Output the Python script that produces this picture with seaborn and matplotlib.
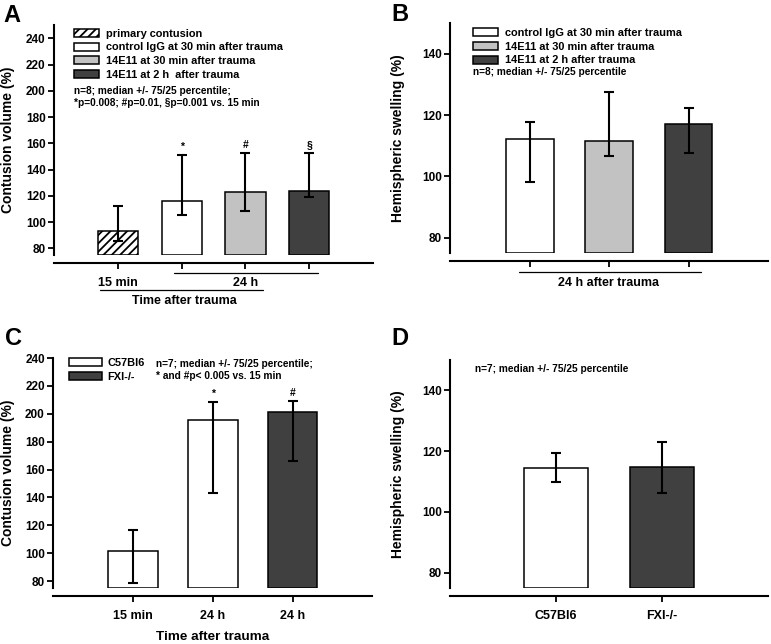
"""
plot.py

four panel bar chart: contusion volume and hemispheric swelling
"""

import matplotlib
matplotlib.use("Agg")
import matplotlib.pyplot as plt
import matplotlib.transforms as mtransforms
import seaborn as sns

# panel A: contusion volume, 14E11 treatment
A_labels = ["primary contusion", "control IgG at 30 min after trauma",
            "14E11 at 30 min after trauma", "14E11 at 2 h  after trauma"]
A_median = [93.0, 116.5, 122.7, 123.5]
A_p75 = [112.0, 151.5, 153.0, 153.0]
A_p25 = [86.0, 105.6, 108.6, 119.0]
A_marks = ["", "*", "#", "§"]

# panel B: hemispheric swelling, 14E11 treatment
B_labels = ["control IgG at 30 min after trauma", "14E11 at 30 min after trauma",
            "14E11 at 2 h after trauma"]
B_median = [112.3, 111.7, 117.0]
B_p75 = [117.9, 127.4, 122.3]
B_p25 = [98.1, 106.8, 107.7]

# panel C: contusion volume, FXI knockout
C_keys = ["C57Bl6 15 min", "C57Bl6 24 h", "FXI-/- 24 h"]
C_ticks = ["15 min", "24 h", "24 h"]
C_legend = ["C57Bl6", "FXI-/-"]
C_median = [101.8, 195.7, 201.6]
C_p75 = [116.4, 208.8, 209.1]
C_p25 = [78.3, 143.4, 166.2]
C_marks = ["", "*", "#"]

# panel D: hemispheric swelling, FXI knockout
D_groups = ["C57Bl6", "FXI-/-"]
D_median = [114.5, 114.8]
D_p75 = [119.5, 123.1]
D_p25 = [110.0, 106.2]

WHITE, LIGHT, DARK = "#ffffff", "#c2c2c2", "#404040"
BASE = 75

sns.set_theme(style="ticks")
plt.rcParams["font.family"] = ["Liberation Sans", "DejaVu Sans"]
plt.rcParams["hatch.linewidth"] = 1.3
plt.rcParams["axes.linewidth"] = 1.5
plt.rcParams["xtick.major.width"] = 1.3
plt.rcParams["ytick.major.width"] = 1.3
plt.rcParams["xtick.major.size"] = 4
plt.rcParams["ytick.major.size"] = 4
plt.rcParams["xtick.color"] = "black"
plt.rcParams["ytick.color"] = "black"
plt.rcParams["axes.edgecolor"] = "black"
plt.rcParams["text.color"] = "black"
plt.rcParams["axes.labelcolor"] = "black"

fig = plt.figure(figsize=(7.71, 6.44), dpi=100)
axA = fig.add_axes([0.070, 0.604, 0.414, 0.357])
axB = fig.add_axes([0.584, 0.607, 0.412, 0.357])
axC = fig.add_axes([0.069, 0.087, 0.414, 0.357])
axD = fig.add_axes([0.584, 0.087, 0.412, 0.354])

leg_font = {"weight": "bold", "size": 7.9}
note_font = {"fontweight": "bold", "fontsize": 7.3}


def bars(ax, keys, median, p25, p75, colors, width, ylim, yticks, xlim):
    sns.barplot(x=keys, y=median, hue=keys, palette=colors, width=width,
                edgecolor="black", linewidth=1.1, legend=False, ax=ax,
                saturation=1)
    # bars start at the bottom of the axis, not at zero
    for p in ax.patches:
        h = p.get_height()
        p.set_y(BASE)
        p.set_height(h - BASE)
    lo = [m - q for m, q in zip(median, p25)]
    hi = [q - m for m, q in zip(median, p75)]
    ax.errorbar(range(len(keys)), median, yerr=[lo, hi], fmt="none",
                ecolor="black", elinewidth=1.5, capsize=3.6, capthick=1.5)
    ax.set_ylim(*ylim)
    ax.set_xlim(*xlim)
    ax.set_yticks(yticks)
    ax.tick_params(axis="y", labelsize=8.5, pad=2)
    for t in ax.get_yticklabels():
        t.set_fontweight("bold")
    ax.spines["top"].set_visible(False)
    ax.spines["right"].set_visible(False)
    ax.spines["bottom"].set_position(("outward", 6))
    ax.set_xlabel("")
    ax.set_ylabel("")


def marks(ax, p75, symbols):
    for i, (top, s) in enumerate(zip(p75, symbols)):
        if s:
            ax.annotate(s, (i, top), xytext=(0, 2), textcoords="offset points",
                        ha="center", va="bottom", fontsize=7.5, fontweight="bold")


def underline(ax, x0, x1, y):
    tr = mtransforms.blended_transform_factory(ax.transData, ax.transAxes)
    ax.plot([x0, x1], [y, y], color="black", lw=0.9, transform=tr, clip_on=False)


def xtext(ax, x, y, s, **kw):
    tr = mtransforms.blended_transform_factory(ax.transData, ax.transAxes)
    ax.text(x, y, s, transform=tr, ha="center", va="center", **kw)


def ylabel(ax, x, s):
    ax.text(x, 0.5, s, transform=ax.transAxes, rotation=90, ha="center",
            va="center", fontsize=10, fontweight="bold")


# ---- A
bars(axA, A_labels, A_median, A_p25, A_p75, [WHITE, WHITE, LIGHT, DARK], 0.63,
     (75, 250), range(80, 241, 20), (-1, 4))
axA.patches[0].set_hatch("////")
axA.set_xticks(range(4))
axA.set_xticklabels([])
marks(axA, A_p75, A_marks)
axA.legend(handles=axA.patches[:4], labels=A_labels, loc="upper left",
           bbox_to_anchor=(0.063, 0.985), frameon=False, prop=leg_font,
           handlelength=2.3, handleheight=0.75, labelspacing=0.35,
           handletextpad=0.6, borderpad=0, borderaxespad=0)
axA.text(0.063, 0.735, "n=8; median +/- 75/25 percentile;\n"
         "*p=0.008; #p=0.01, §p=0.001 vs. 15 min", transform=axA.transAxes,
         ha="left", va="top", linespacing=1.25, **note_font)
underline(axA, 0.88, 3.14, -0.077)
underline(axA, -0.28, 2.28, -0.152)
xtext(axA, 0, -0.122, "15 min", fontsize=9, fontweight="bold")
xtext(axA, 2, -0.122, "24 h", fontsize=9, fontweight="bold")
xtext(axA, 1.04, -0.199, "Time after trauma", fontsize=9, fontweight="bold")
ylabel(axA, -0.144, "Contusion volume (%)")

# ---- B
bars(axB, B_labels, B_median, B_p25, B_p75, [WHITE, LIGHT, DARK], 0.6,
     (75, 150), [80, 100, 120, 140], (-1, 3))
axB.set_xticks(range(3))
axB.set_xticklabels([])
axB.legend(handles=axB.patches[:3], labels=B_labels, loc="upper left",
           bbox_to_anchor=(0.072, 0.98), frameon=False, prop=leg_font,
           handlelength=2.3, handleheight=0.75, labelspacing=0.35,
           handletextpad=0.6, borderpad=0, borderaxespad=0)
axB.text(0.072, 0.787, "n=8; median +/- 75/25 percentile", transform=axB.transAxes,
         ha="left", va="center", **note_font)
underline(axB, -0.13, 2.16, -0.083)
xtext(axB, 0.99, -0.13, "24 h after trauma", fontsize=9, fontweight="bold")
ylabel(axB, -0.163, "Hemispheric swelling (%)")

# ---- C
bars(axC, C_keys, C_median, C_p25, C_p75, [WHITE, WHITE, DARK], 0.62,
     (75, 240), range(80, 241, 20), (-1, 3))
axC.set_xticks(range(3))
axC.set_xticklabels(C_ticks, fontsize=9, fontweight="bold")
axC.tick_params(axis="x", pad=6)
marks(axC, C_p75, C_marks)
axC.legend(handles=[axC.patches[0], axC.patches[2]], labels=C_legend,
           loc="upper left", bbox_to_anchor=(0.05, 1.0), frameon=False,
           prop=leg_font, handlelength=3.0, handleheight=0.75, labelspacing=0.38,
           handletextpad=0.5, borderpad=0, borderaxespad=0)
axC.text(0.323, 0.995, "n=7; median +/- 75/25 percentile;\n"
         "* and #p< 0.005 vs. 15 min", transform=axC.transAxes,
         ha="left", va="top", linespacing=1.25, **note_font)
xtext(axC, 1.0, -0.212, "Time after trauma", fontsize=9.7, fontweight="bold")
ylabel(axC, -0.141, "Contusion volume (%)")

# ---- D
bars(axD, D_groups, D_median, D_p25, D_p75, [WHITE, DARK], 0.61,
     (75, 150), [80, 100, 120, 140], (-1, 2))
axD.set_xticks(range(2))
axD.set_xticklabels(D_groups, fontsize=9, fontweight="bold")
axD.tick_params(axis="x", pad=6)
axD.text(0.079, 0.96, "n=7; median +/- 75/25 percentile", transform=axD.transAxes,
         ha="left", va="center", **note_font)
ylabel(axD, -0.163, "Hemispheric swelling (%)")

# panel letters
for x, y, s in [(0.004, 0.994, "A"), (0.508, 0.996, "B"),
                (0.006, 0.493, "C"), (0.508, 0.493, "D")]:
    fig.text(x, y, s, ha="left", va="top", fontsize=17, fontweight="bold")

fig.savefig("out.png", dpi=100)
